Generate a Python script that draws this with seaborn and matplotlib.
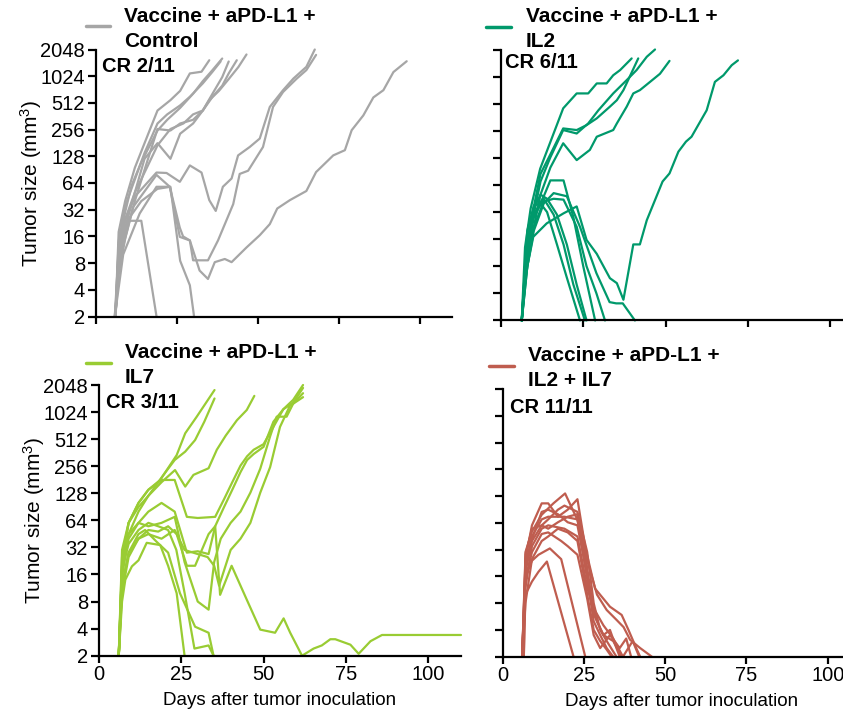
import matplotlib
matplotlib.use('Agg')
import matplotlib.pyplot as plt
from matplotlib.lines import Line2D
import pandas as pd
import seaborn as sns

# ---- data: tumour volume per mouse (mm3) ----
CTRL_DAYS = [
    [6, 7, 9, 12, 15, 19, 23, 26, 29, 32.6, 35],
    [6, 7, 9, 11, 14, 19, 22, 26, 30, 33, 36, 39],
    [6, 7, 9, 12, 15, 19, 23, 26, 30, 33, 36, 39, 41],
    [6, 7, 9, 12, 15, 19, 23, 26, 30, 33, 36, 39, 41, 43.5],
    [6, 7, 9, 12, 16, 19, 23, 27, 30, 33, 35, 38, 41, 44, 46.5],
    [5.8, 7.3, 12, 18.7, 21.8, 25.9, 29, 32.6, 35, 37, 39.2, 41.9, 43.9, 47.5, 50.6, 53.7, 57.8, 61, 65, 67.6],
    [5.8, 7.3, 11.4, 18.7, 22.8, 25.9, 26.9, 29, 30, 34.6, 37.7, 42.4, 44.4, 47, 51.6, 54.7, 57.8, 62, 65, 68],
    [5.8, 8.4, 13.5, 18.7, 22.8, 25.9, 29, 32, 34.6, 36.7, 39.8, 41.9, 46.5, 50.6, 53.7, 56, 59.9, 65, 68,
     73.3, 76.9, 79, 82.6, 85.7, 88.8, 91.9, 96],
    [6, 7, 9, 14, 18.7],
    [6, 7, 10, 14, 19, 23, 26, 29, 30.3],
    [6, 7, 9, 12, 15, 19, 22, 26, 29, 33, 36, 38.5],
]
CTRL_VOL = [
    [2, 18, 40, 95, 180, 420, 550, 700, 1100, 1150, 1550],
    [2, 12, 30, 60, 110, 250, 330, 450, 650, 900, 1200, 1620],
    [2, 8, 20, 50, 120, 180, 120, 230, 300, 420, 650, 1000, 1500],
    [2, 6, 15, 40, 90, 260, 250, 300, 330, 420, 600, 800, 1100, 1550],
    [2, 10, 25, 50, 100, 170, 260, 300, 380, 420, 550, 700, 950, 1300, 1800],
    [2, 17, 45, 84, 83, 66, 101, 84, 41, 31, 58, 72, 131, 163, 203, 461, 712, 964, 1305, 2048],
    [2, 8.6, 34, 79, 58, 20, 16, 14.4, 8.6, 8.6, 14.4, 37, 81, 88, 163, 461, 680, 960, 1200, 1780],
    [2, 10, 29, 58, 58, 15.8, 14.4, 6.6, 5.3, 8.2, 8.9, 8.2, 12, 16.5, 22, 33, 41, 52, 85,
     131, 150, 252, 370, 590, 712, 1140, 1510],
    [2, 10, 24, 24, 2],
    [2, 8, 25, 40, 55, 58, 8.5, 4.5, 2],
    [2, 14, 35, 70, 140, 300, 380, 480, 600, 850, 1150, 1500],
]

IL2_DAYS = [
    [6.3, 7.3, 9, 11.9, 18.9, 23, 26.5, 29.1, 32.1, 34.1, 36.2, 39.7],
    [6.3, 7.5, 9.5, 12, 15, 18.9, 23, 26, 29.1, 33.1, 35.2, 37.2, 41.7],
    [6.3, 7.5, 9.5, 12, 15, 18.9, 23, 26.5, 29.6, 34.1, 38.2, 41.2, 44.3, 46.8],
    [6.3, 7.5, 9.5, 12, 15, 18.9, 23, 27, 29.1, 34.1, 35.2, 38.2, 40.2, 42.2, 45.3, 48.3, 51.2],
    [6.3, 8, 9.8, 13.9, 19, 23, 26, 29.1, 33.1, 35.2, 37.2, 40.2, 42.2, 44.3, 49.1, 51.2, 53.9,
     56.2, 57.9, 62.5, 65, 67.6, 70.1, 72],
    [6.3, 8, 10, 12, 14, 17, 20, 24],
    [6.3, 8, 10, 13, 16, 19, 22, 25.5],
    [6.3, 8, 10, 12, 14, 17, 20, 23, 26],
    [6.3, 8, 10, 13, 15, 19, 22, 25, 28.6],
    [6.3, 8, 10, 13, 16, 19, 23, 26, 29, 31.6],
    [6.3, 8, 10, 13, 16, 20, 24, 29, 33, 35, 37, 40.7],
]
IL2_VOL = [
    [2, 13, 35, 97, 455, 666, 666, 860, 860, 1060, 1210, 1630],
    [2, 10, 30, 85, 140, 272, 261, 296, 352, 475, 560, 724, 1630],
    [2, 8, 25, 70, 130, 261, 239, 309, 433, 666, 936, 1210, 1700, 2048],
    [2, 6, 18, 50, 100, 186, 121, 157, 220, 261, 309, 475, 666, 724, 895, 1100, 1530],
    [2, 8, 17, 24, 31, 37, 15.7, 11, 5.9, 5.2, 3.4, 14, 14, 26, 70, 86, 150,
     194, 220, 433, 895, 1060, 1370, 1550],
    [2, 20, 38, 40, 32, 14, 6, 2],
    [2, 12, 28, 45, 30, 14, 5, 2],
    [2, 16, 35, 50, 45, 30, 14, 5, 2],
    [2, 14, 30, 48, 72, 72, 28, 8, 2],
    [2, 10, 22, 42, 45, 44, 22, 8, 4, 2],
    [2, 8, 20, 40, 52, 48, 22, 6.7, 3.2, 3.1, 3.1, 2],
]

IL7_DAYS = [
    [6, 7, 9, 12, 15, 18.6, 23.6, 26.2, 29.7, 35.1],
    [6, 7, 9, 12, 15, 19.6, 23, 26.2, 29.2, 32, 35.1],
    [6, 7, 9, 12, 15, 19, 23.1, 26.2, 28.7, 33.3, 35.8, 38.5, 41.9, 44.9, 47.2],
    [6, 7, 9, 12, 15, 19, 23, 26.7, 30, 35.3, 38, 40.5, 43, 45, 47, 50, 53, 56, 59, 62],
    [6, 7, 9, 12, 15, 19, 23, 26.7, 30, 33.3, 35.3, 38, 40.5, 43, 45, 47, 50, 53, 56, 59, 62],
    [6, 7, 9, 12, 15, 19, 23, 26, 30, 33.3, 35, 37, 40, 43, 46, 49, 52, 54, 57, 59, 62],
    [6, 7, 9, 12, 15, 19, 23, 26, 30, 33, 35, 36.5, 40, 43, 46, 49, 52, 55, 58, 62],
    [6, 7, 8, 10, 12, 14.5, 18.6, 21, 23.6, 26],
    [6, 7, 9, 12, 14, 17.5, 21, 24.6, 29.2, 33.3, 34.8],
    [6, 7, 9, 12, 15, 18, 21, 23.5, 26, 29, 33.3, 34.8],
    [6, 7, 9, 12, 15, 18, 21, 23.6, 26.7, 29.2, 33.3, 35.3, 36.8, 40.3, 44.9, 49, 53.5, 56.1, 58.1,
     61.7, 65.2, 67.7, 70.3, 71.8, 76.4, 78.9, 82.5, 86, 110],
]
IL7_VOL = [
    [2, 20, 60, 100, 140, 180, 340, 595, 910, 1800],
    [2, 15, 45, 80, 120, 205, 300, 372, 500, 800, 1450],
    [2, 25, 60, 90, 120, 170, 232, 152, 205, 243, 390, 560, 830, 1080, 1550],
    [2, 30, 60, 100, 140, 180, 180, 70, 68, 70, 110, 170, 260, 330, 390, 450, 700, 1100, 1400, 2048],
    [2, 20, 45, 60, 80, 100, 80, 28, 29, 27, 55, 90, 140, 220, 300, 350, 420, 800, 1100, 1300, 1900],
    [2, 18, 40, 60, 55, 60, 70, 22, 8, 6.5, 22, 40, 60, 80, 130, 240, 550, 910, 910, 1270, 1660],
    [2, 12, 28, 40, 45, 40, 50, 30, 27, 25, 20, 12, 30, 40, 60, 130, 250, 700, 1200, 1500],
    [2, 8, 14, 19.7, 23, 36, 34, 20, 9.9, 2],
    [2, 12, 28, 45, 50, 37, 28, 9.9, 4.2, 3.6, 2],
    [2, 18, 35, 50, 60, 55, 50, 30, 10, 2.4, 2.6, 2],
    [2, 10, 25, 40, 50, 48, 55, 45, 20, 20, 45, 55, 9.5, 20, 8.4, 3.9, 3.6, 5.2, 3.6,
     2, 2.4, 2.6, 3.05, 3.05, 2.65, 2.1, 2.9, 3.4, 3.4],
]

COMBO_DAYS = [
    [6.5, 7, 9, 11, 13.6, 21.8],
    [6, 7, 9, 11, 14.5, 18, 25.4],
    [6.5, 7, 9, 12, 15.6, 19.2, 23, 25.4, 29, 32, 35, 37.2, 39.2, 42.3, 45.9],
    [6, 7, 9, 12, 14, 17, 20, 23, 25.4, 28.4, 33, 36.6, 38.7, 41.3, 42.3],
    [6, 7, 9, 12, 14, 19, 23, 26, 28, 30, 32, 34],
    [6, 7, 9, 12, 14, 19, 23, 26, 29, 31, 33, 35, 36],
    [6, 7, 9, 12, 14, 17, 20, 23, 26, 28, 31, 34, 36.6],
    [6, 7, 9, 12, 14, 17, 20, 23, 26, 28, 30, 32, 33.5],
    [6, 7, 9, 12, 14, 18, 20, 23, 26, 28, 30, 33, 36, 38, 39.5],
    [6, 7, 9, 12, 14, 17, 20, 23, 25, 28, 31, 34, 37, 40, 42],
    [6, 7, 9, 12, 14, 17, 19, 23, 26, 28, 30, 32, 35],
]
COMBO_VOL = [
    [2, 10, 14, 18, 23.5, 2],
    [2, 16, 24, 28, 33, 25, 2],
    [2, 30, 51, 79, 106, 137, 69, 29, 10, 6.7, 5.2, 4.3, 3.1, 2.5, 2],
    [2, 25, 60, 106, 106, 75, 90, 118, 34, 11.7, 7.3, 5.9, 4, 2.4, 2],
    [2, 20, 45, 70, 75, 75, 70, 15, 5, 3.5, 2.5, 2],
    [2, 12, 35, 55, 60, 55, 45, 12, 5, 3.5, 4, 2.5, 2],
    [2, 18, 40, 60, 55, 65, 75, 80, 20, 6, 3.5, 3, 2],
    [2, 8, 25, 40, 45, 55, 50, 40, 10, 4, 3, 2.4, 2],
    [2, 15, 30, 48, 50, 40, 35, 28, 9, 3.5, 2.5, 3.5, 2.5, 3.2, 2],
    [2, 22, 42, 85, 90, 80, 65, 60, 25, 7, 4.5, 3.2, 2, 3, 2],
    [2, 28, 55, 60, 70, 90, 100, 85, 30, 8, 4, 3, 2],
]

GROUP_NAMES = [
    ('Vaccine + aPD-L1 +', 'Control'),
    ('Vaccine + aPD-L1 +', 'IL2'),
    ('Vaccine + aPD-L1 +', 'IL7'),
    ('Vaccine + aPD-L1 +', 'IL2 + IL7'),
]
CR_LABELS = ['CR 2/11', 'CR 6/11', 'CR 3/11', 'CR 11/11']
COLORS = ['#a6a6a6', '#00996b', '#99cc33', '#bf5d4f']
Y_TICKS = [2, 4, 8, 16, 32, 64, 128, 256, 512, 1024, 2048]
X_TICKS = [0, 25, 50, 75, 100]

W, H = 843, 712


def to_frame(days, vols):
    rows = []
    for i, (d, v) in enumerate(zip(days, vols)):
        for x, y in zip(d, v):
            rows.append({'mouse': i, 'day': x, 'volume': y})
    return pd.DataFrame(rows)


def fx(px):
    return px / W


def fy(py):
    return 1 - py / H


sns.set_style('ticks')
plt.rcParams['font.family'] = ['Liberation Sans', 'DejaVu Sans']
plt.rcParams['mathtext.fontset'] = 'custom'
plt.rcParams['mathtext.rm'] = 'Liberation Sans'
plt.rcParams['mathtext.it'] = 'Liberation Sans'
plt.rcParams['text.color'] = 'black'
plt.rcParams['axes.labelcolor'] = 'black'
plt.rcParams['axes.edgecolor'] = 'black'

fig = plt.figure(figsize=(W / 100, H / 100), dpi=100)

# axes boxes in pixels: left, bottom (y of x-axis), width, height
boxes = [
    (96, 316.5, 356, 267),
    (501, 320.5, 362, 271),
    (99, 655.7, 362, 270.7),
    (502.7, 656.7, 357.5, 267.7),
]
legend_pos = [  # line x0, x1, y, text x, first baseline
    (86, 110, 26, 124, 22),
    (486, 511, 27, 526, 22),
    (86, 111, 363, 125, 358),
    (489, 514, 366, 528, 361),
]
cr_pos = [(102, 72), (505, 68), (106, 408), (510, 413)]

datasets = [(CTRL_DAYS, CTRL_VOL), (IL2_DAYS, IL2_VOL), (IL7_DAYS, IL7_VOL), (COMBO_DAYS, COMBO_VOL)]

for k, ((days, vols), color) in enumerate(zip(datasets, COLORS)):
    l, b, w, h = boxes[k]
    ax = fig.add_axes([fx(l), fy(b), w / W, h / H])
    df = to_frame(days, vols)
    sns.lineplot(data=df, x='day', y='volume', units='mouse', estimator=None,
                 color=color, lw=1.6, ax=ax, legend=False)
    for ln in ax.lines:
        ln.set_clip_on(False)
    ax.set_yscale('log', base=2)
    ax.set_ylim(2, 2048)
    ax.set_xlim(0, 110)
    ax.set_yticks(Y_TICKS)
    ax.set_yticklabels([str(t) for t in Y_TICKS])
    ax.yaxis.set_minor_locator(matplotlib.ticker.NullLocator())
    ax.set_xticks(X_TICKS)
    ax.set_xticklabels([str(t) for t in X_TICKS])
    sns.despine(ax=ax)
    for s in ['left', 'bottom']:
        ax.spines[s].set_linewidth(1.6)
        ax.spines[s].set_color('black')
    ax.tick_params(axis='both', direction='out', length=6, width=1.6,
                   labelsize=14.5, pad=2, colors='black')
    ax.tick_params(axis='x', length=5)
    left_col = k in (0, 2)
    bottom_row = k in (2, 3)
    ax.tick_params(labelleft=left_col, labelbottom=bottom_row)
    if left_col:
        ax.set_ylabel('Tumor size (mm$^{3}$)', fontsize=15)
        ax.yaxis.set_label_coords(-0.145, 0.5)
    else:
        ax.set_ylabel('')
    if bottom_row:
        ax.set_xlabel('Days after tumor inoculation', fontsize=13.5)
        ax.xaxis.set_label_coords(0.5, -0.135)
    else:
        ax.set_xlabel('')

    # legend swatch + two-line bold group name
    x0, x1, ly, tx, tb = legend_pos[k]
    fig.add_artist(Line2D([fx(x0), fx(x1)], [fy(ly), fy(ly)], color=color, lw=2.5,
                          transform=fig.transFigure))
    line1, line2 = GROUP_NAMES[k]
    fig.text(fx(tx), fy(tb), line1, fontsize=15, fontweight='bold', va='baseline', color='black')
    fig.text(fx(tx), fy(tb + 25), line2, fontsize=15, fontweight='bold', va='baseline', color='black')

    cx, cy = cr_pos[k]
    fig.text(fx(cx), fy(cy), CR_LABELS[k], fontsize=14.5, fontweight='bold', va='baseline',
             color='black')

fig.savefig('out.png', dpi=100)
